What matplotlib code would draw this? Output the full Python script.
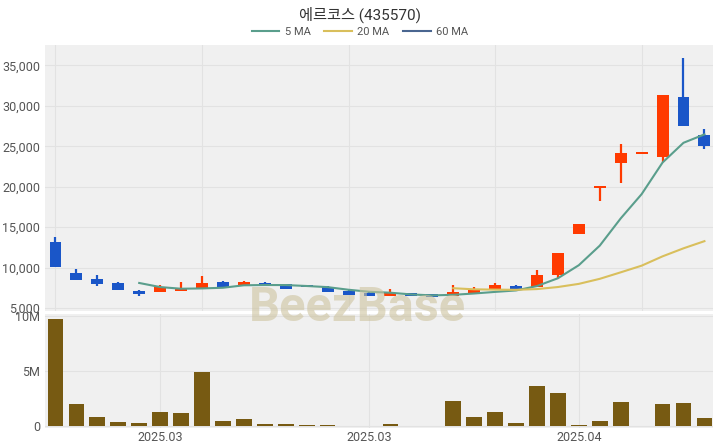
import matplotlib
matplotlib.use("Agg")
import matplotlib.pyplot as plt
from matplotlib.lines import Line2D
from matplotlib.ticker import FuncFormatter
import pandas as pd

plt.rcParams["font.family"] = ["Roboto", "Noto Sans CJK KR", "DejaVu Sans"]

# daily candles (KRW)
opens = [13170, 9300, 8550, 8100, 7140, 7010, 7100, 7510, 8260, 7760,
         8050, 7930, 7800, 7640, 7140, 6890, 6520, 6820, 6700, 6520,
         6730, 7180, 7680, 7560, 9085, 14200, 19800, 22990, 24100, 23730,
         31160, 26450]
highs = [13790, 9790, 9050, 8260, 7200, 7850, 8180, 8960, 8300, 8280,
         8150, 7980, 7830, 7660, 7160, 6910, 7315, 6840, 6720, 7850,
         7640, 8130, 7850, 9700, 11800, 15360, 19950, 25300, 24100, 31400,
         35900, 27200]
lows = [10050, 8420, 7760, 7200, 6520, 6990, 7050, 7480, 7620, 7740,
        7700, 7370, 7530, 6920, 6620, 6430, 6500, 6470, 6340, 6500,
        6710, 7160, 7370, 7540, 8680, 14180, 18280, 20430, 24100, 23040,
        27500, 24650]
closes = [10080, 8470, 7930, 7230, 6730, 7550, 7430, 8130, 7640, 8260,
          7720, 7390, 7555, 6940, 6640, 6450, 6820, 6490, 6360, 6980,
          7280, 7800, 7390, 9085, 11800, 15360, 19900, 24230, 24100, 31370,
          27570, 25090]
volumes = [9.70, 2.00, 0.79, 0.34, 0.30, 1.25, 1.18, 4.88, 0.48, 0.66,
           0.18, 0.18, 0.09, 0.05, 0.02, 0.02, 0.21, 0.01, 0.01, 2.30,
           0.79, 1.25, 0.27, 3.61, 2.97, 0.12, 0.45, 2.15, 0.0, 2.00,
           2.09, 0.73]  # millions of shares

tick_pos = [5, 15, 25]
tick_labels = ["2025.03", "2025.03", "2025.04"]

UP = "#ff3a00"
DOWN = "#1a56c8"
BG = "#f0f0f0"
GRID = "#e2e2e2"

x = list(range(len(closes)))
close_s = pd.Series(closes, dtype=float)
ma5 = close_s.rolling(5).mean()
ma20 = close_s.rolling(20).mean()
ma60 = close_s.rolling(60).mean()

fig = plt.figure(figsize=(7.2, 4.48), dpi=100)
ax = fig.add_axes([0.0625, 0.306, 0.9275, 0.594])
axv = fig.add_axes([0.0625, 0.045, 0.9275, 0.254])

for a in (ax, axv):
    a.set_facecolor(BG)
    for s in a.spines.values():
        s.set_visible(False)
    a.tick_params(length=0, labelsize=9, colors="#555555")
    a.set_axisbelow(True)
    a.set_xlim(-0.5, 31.4)

# price panel
cols = [UP if c >= o else DOWN for o, c in zip(opens, closes)]
bottoms = [min(o, c) for o, c in zip(opens, closes)]
heights = [max(abs(c - o), 250) for o, c in zip(opens, closes)]
ax.vlines(x, lows, highs, colors=cols, linewidth=1.6, zorder=2)
ax.bar(x, heights, bottom=bottoms, width=0.57, color=cols, zorder=3)
ax.plot(x, ma5, color="#5a9e8c", linewidth=1.5, zorder=4)
ax.plot(x, ma20, color="#d9bf5c", linewidth=1.5, zorder=4)
ax.plot(x, ma60, color="#4a6690", linewidth=1.5, zorder=4)
ax.set_ylim(4630, 37560)
ax.set_yticks([5000, 10000, 15000, 20000, 25000, 30000, 35000])
ax.yaxis.set_major_formatter(FuncFormatter(lambda v, p: f"{int(v):,}"))
ax.set_xticks([0, 7, 14, 21, 28])
ax.set_xticklabels([])
ax.grid(True, color=GRID, linewidth=0.8)

# volume panel
axv.bar(x, volumes, width=0.75, color="#775a12", zorder=3)
axv.set_ylim(-0.18, 10.18)
axv.set_yticks([0, 5, 10])
axv.set_yticklabels(["0", "5M", "10M"])
axv.set_xticks(tick_pos)
axv.set_xticklabels(tick_labels)
axv.tick_params(axis="x", pad=2)
axv.grid(True, color=GRID, linewidth=0.8)

fig.text(0.5, 0.968, "에르코스 (435570)", ha="center", va="center",
         fontsize=11, color="#333333")
handles = [Line2D([], [], color="#5a9e8c", lw=1.5),
           Line2D([], [], color="#d9bf5c", lw=1.5),
           Line2D([], [], color="#4a6690", lw=1.5)]
fig.legend(handles, ["5 MA", "20 MA", "60 MA"], loc="center",
           bbox_to_anchor=(0.5, 0.928), ncol=3, frameon=False, fontsize=8,
           handlelength=2.5, columnspacing=1.2, handletextpad=0.5,
           labelcolor="#555555")

fig.text(0.497, 0.312, "BeezBase", ha="center", va="center", fontsize=35,
         fontweight="bold", color="#cdc39f", alpha=0.6, zorder=10)

fig.savefig("out.png", dpi=100)
